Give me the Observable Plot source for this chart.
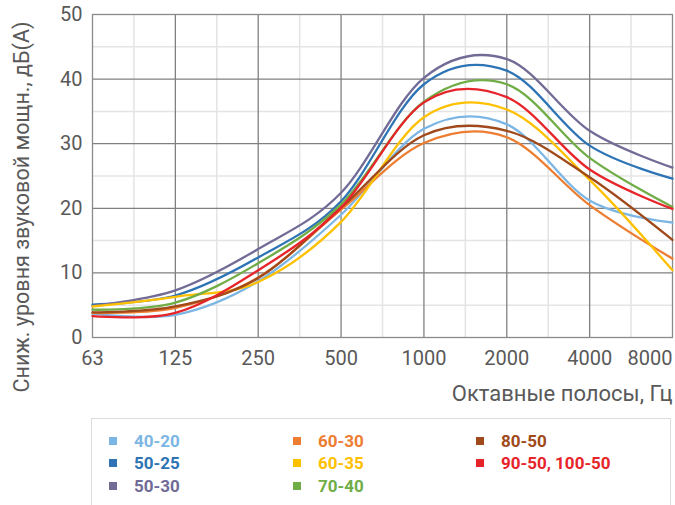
<!DOCTYPE html>
<html>
<head>
<meta charset="utf-8">
<script src="https://cdn.jsdelivr.net/npm/d3@7"></script>
<script src="https://cdn.jsdelivr.net/npm/@observablehq/plot@0.6"></script>
<style>
  body { margin: 0; background: #fff; }
  #wrap { position: relative; width: 675px; height: 505px; overflow: hidden; font-family: Roboto, "Noto Sans", sans-serif; }
  #legend { position: absolute; left: 91px; top: 418px; width: 580px; height: 100px; border: 1px solid #dcdcdc; box-sizing: border-box; }
  .item { position: absolute; font-weight: bold; font-size: 17px; line-height: 17px; white-space: nowrap; }
  .sw { position: absolute; width: 8px; height: 8px; }
</style>
</head>
<body>
<div id="wrap"><div id="chart"></div><div id="legend"></div></div>
<script>
// Octave bands (x categories)
const bands = ["63", "125", "250", "500", "1000", "2000", "4000", "8000"];
const yTicks = [0, 10, 20, 30, 40, 50];

// Series
const seriesNames = ["40-20", "50-25", "50-30", "60-30", "60-35", "70-40", "80-50", "90-50, 100-50"];
const s40_20 = [3.7, 3.5, 8.7, 19.0, 32.3, 33.0, 21.2, 17.8];
const s50_25 = [5.1, 6.5, 12.4, 21.1, 39.2, 41.3, 29.7, 24.6];
const s50_30 = [4.9, 7.3, 13.7, 22.4, 40.2, 43.1, 32.0, 26.3];
const s60_30 = [3.8, 4.6, 9.3, 19.8, 30.1, 31.0, 20.5, 12.2];
const s60_35 = [4.8, 6.3, 8.6, 17.9, 34.1, 35.3, 24.4, 10.4];
const s70_40 = [4.3, 5.4, 11.5, 20.6, 36.5, 39.2, 27.8, 20.2];
const s80_50 = [3.9, 4.8, 9.2, 20.1, 31.3, 32.0, 24.8, 15.1];
const s90_50 = [3.3, 3.8, 10.4, 20.1, 36.4, 37.2, 26.0, 19.9];
const seriesValues = [s40_20, s50_25, s50_30, s60_30, s60_35, s70_40, s80_50, s90_50];
const seriesColors = ["#7cb6e4", "#2e74b5", "#716b96", "#ed7d31", "#ffc000", "#70ad47", "#a0491a", "#e8242b"];

const yLabel = "Сниж. уровня звуковой мощн., дБ(A)";
const xLabel = "Октавные полосы, Гц";

const rows = seriesNames.flatMap((name, k) =>
  seriesValues[k].map((v, i) => ({band: i, value: v, series: name}))
);

const majorGrid = {stroke: "#808080", strokeOpacity: 1, strokeWidth: 1.3};
const minorGrid = {stroke: "#e4e4e4", strokeOpacity: 1, strokeWidth: 1.5};
const last = bands.length - 1;

const chart = Plot.plot({
  width: 675,
  height: 410,
  marginLeft: 92,
  marginRight: 3,
  marginTop: 14,
  marginBottom: 73,
  style: {fontFamily: "Roboto, 'Noto Sans', sans-serif", background: "white", color: "#595959"},
  x: {type: "linear", domain: [0, last], axis: null},
  y: {domain: [0, 50], axis: null},
  color: {domain: seriesNames, range: seriesColors},
  marks: [
    Plot.gridY(d3.range(5, 50, 10), minorGrid),
    Plot.gridX(d3.range(0.5, last, 1), minorGrid),
    Plot.gridY(yTicks.slice(1, -1), majorGrid),
    Plot.gridX(d3.range(1, last), majorGrid),
    Plot.frame({stroke: "#8a8a8a", strokeWidth: 1.3}),
    Plot.line(rows, {x: "band", y: "value", z: "series", stroke: "series", curve: "cardinal", tension: 0, strokeWidth: 2.3}),
    Plot.axisY(yTicks, {tickSize: 0, tickPadding: 10, fontSize: 20, fill: "#595959", label: null}),
    Plot.text(bands, {x: (d, i) => i, filter: (d, i) => i < last, frameAnchor: "bottom", lineAnchor: "middle", dy: 21, fontSize: 20, fill: "#595959"}),
    Plot.text(bands, {x: (d, i) => i, filter: (d, i) => i === last, frameAnchor: "bottom", lineAnchor: "middle", dy: 21, textAnchor: "end", fontSize: 20, fill: "#595959"}),
    Plot.text([xLabel], {frameAnchor: "bottom-right", textAnchor: "end", lineAnchor: "middle", dy: 56, fontSize: 22, fill: "#595959"}),
    Plot.text([yLabel], {frameAnchor: "left", textAnchor: "middle", lineAnchor: "middle", rotate: -90, dx: -70, dy: 31, fontSize: 21.5, fill: "#595959"})
  ]
});
document.getElementById("chart").appendChild(chart);

// Legend (3 columns x 3 rows)
const legend = document.getElementById("legend");
const colX = [134, 318, 501];
const rowY = [441, 463, 486];
seriesNames.forEach((name, k) => {
  const c = Math.floor(k / 3), r = k % 3;
  const sw = document.createElement("div");
  sw.className = "sw";
  sw.style.background = seriesColors[k];
  sw.style.left = (colX[c] - 25 - 92) + "px";
  sw.style.top = (rowY[r] - 4 - 419) + "px";
  legend.appendChild(sw);
  const t = document.createElement("div");
  t.className = "item";
  t.textContent = name;
  t.style.color = seriesColors[k];
  t.style.left = (colX[c] - 92) + "px";
  t.style.top = (rowY[r] - 8.5 - 419) + "px";
  legend.appendChild(t);
});
</script>
</body>
</html>
